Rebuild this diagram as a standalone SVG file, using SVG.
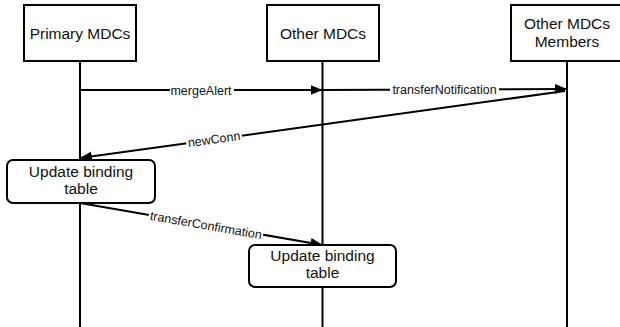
<svg xmlns="http://www.w3.org/2000/svg" width="620" height="327" viewBox="0 0 620 327">
  <style>
    .box { fill: #fff; stroke: #000; stroke-width: 2; }
    .life { stroke: #000; stroke-width: 2; fill: none; }
    .msg { stroke: #000; stroke-width: 2; fill: none; marker-end: url(#head); }
    .title { font-family: "Liberation Sans", Arial, sans-serif; font-size: 15.5px; fill: #111; text-anchor: middle; }
    .lbl { font-family: "Liberation Sans", Arial, sans-serif; font-size: 12.5px; fill: #111; text-anchor: middle; }
    .gap { fill: #fff; }
  </style>
  <defs>
    <marker id="head" markerUnits="userSpaceOnUse" markerWidth="14" markerHeight="12" refX="12" refY="6" orient="auto">
      <path d="M0,1 L12,6 L0,11 Z" fill="#000"/>
    </marker>
  </defs>
  <rect width="620" height="327" fill="#fff"/>

  <!-- lifelines -->
  <g id="lifelines">
    <line class="life" x1="80" y1="61" x2="80" y2="327"/>
    <line class="life" x1="322.5" y1="61" x2="322.5" y2="327"/>
    <line class="life" x1="567" y1="61" x2="567" y2="327"/>
  </g>

  <!-- participants -->
  <g id="primary">
    <rect class="box" x="24" y="5" width="112" height="56"/>
    <text class="title" x="80" y="38.5">Primary MDCs</text>
  </g>
  <g id="other">
    <rect class="box" x="267" y="5" width="112" height="56"/>
    <text class="title" x="323" y="38.5">Other MDCs</text>
  </g>
  <g id="members">
    <rect class="box" x="511" y="5" width="112" height="56"/>
    <text class="title" x="567" y="29">Other MDCs</text>
    <text class="title" x="567" y="47">Members</text>
  </g>

  <!-- messages -->
  <g id="connectors">
    <line class="msg" x1="80" y1="90" x2="322.5" y2="90"/>
    <rect class="gap" x="170" y="83" width="64" height="14"/>
    <text class="lbl" x="201" y="94.5">mergeAlert</text>

    <line class="msg" x1="322.5" y1="90" x2="567" y2="89"/>
    <rect class="gap" x="390" y="82" width="109" height="14"/>
    <text class="lbl" x="444.5" y="94">transferNotification</text>

    <line class="msg" x1="565" y1="91" x2="80" y2="158"/>
    <g transform="translate(214,139) rotate(-7.9)">
      <rect class="gap" x="-28" y="-7" width="56" height="14"/>
      <text class="lbl" x="0" y="4.5">newConn</text>
    </g>

    <line class="msg" x1="80" y1="203" x2="322.5" y2="245"/>
    <g transform="translate(206,225) rotate(9.85)">
      <rect class="gap" x="-58" y="-7" width="116" height="14"/>
      <text class="lbl" x="0" y="4.5">transferConfirmation</text>
    </g>
  </g>

  <!-- activity boxes -->
  <g id="update-primary">
    <rect class="box" x="7" y="160" width="148" height="43" rx="6"/>
    <text class="title" x="81" y="176.5">Update binding</text>
    <text class="title" x="81" y="193.5">table</text>
  </g>
  <g id="update-other">
    <rect class="box" x="249" y="245" width="147" height="42" rx="6"/>
    <text class="title" x="322.5" y="260.5">Update binding</text>
    <text class="title" x="322.5" y="277.5">table</text>
  </g>
</svg>
